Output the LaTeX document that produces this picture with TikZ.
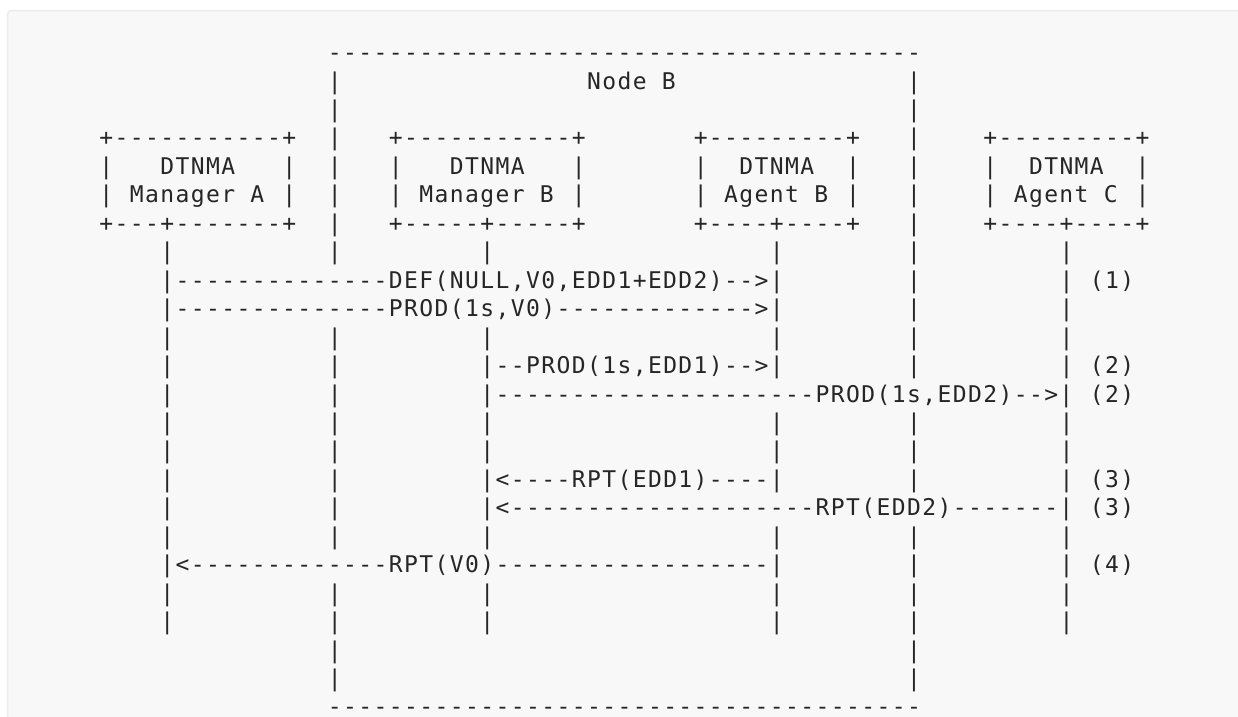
\documentclass[tikz,border=0pt]{standalone}
\usepackage{fontspec}
\newfontfamily\asciifont[Ligatures=TeXOff,LetterSpace=6.06]{DejaVu Sans Mono}
\definecolor{bgfill}{HTML}{F8F8F8}
\definecolor{bgline}{HTML}{ECECEC}
\definecolor{txt}{HTML}{262626}
\newcommand\xo{99.38pt}
\newcommand\cw{15.24pt}
\newcommand\yo{60.6pt}
\newcommand\lh{28.45pt}
\tikzset{
  ascii/.style={anchor=base west, inner sep=0pt, outer sep=0pt, text=txt,
    font=\asciifont\fontsize{23pt}{28pt}\selectfont},
  panel/.style={draw=bgline, line width=1.5pt, fill=bgfill, rounded corners=4pt}
}
\newcommand\seg[3]{\node[ascii] (r#1c#2) at ({\xo+#2*\cw},{-(\yo+#1*\lh)}) {#3};}
\newcommand\bars[2]{\foreach \c in {#2} {\seg{#1}{\c}{|}}}
\begin{document}
\begin{tikzpicture}
\useasboundingbox (0,0) rectangle (1238pt,-716pt);
\clip (0,0) rectangle (1238pt,-716pt);
\fill[white] (0,0) rectangle (1238pt,-716pt);
\path[panel] (7.5pt,-10.5pt) rectangle (1260pt,-740pt);
% row 0
\seg{0}{15}{---------------------------------------}
% rows 1-2
\bars{1}{15,53}
\seg{1}{32}{Node B}
\bars{2}{15,53}
% row 3
\seg{3}{0}{+-----------+}
\seg{3}{15}{|}
\seg{3}{19}{+-----------+}
\seg{3}{39}{+---------+}
\seg{3}{53}{|}
\seg{3}{58}{+---------+}
% row 4
\bars{4}{0,12,15,19,31,39,49,53,58,68}
\seg{4}{4}{DTNMA}
\seg{4}{23}{DTNMA}
\seg{4}{42}{DTNMA}
\seg{4}{61}{DTNMA}
% row 5
\bars{5}{0,12,15,19,31,39,49,53,58,68}
\seg{5}{2}{Manager A}
\seg{5}{21}{Manager B}
\seg{5}{41}{Agent B}
\seg{5}{60}{Agent C}
% row 6
\seg{6}{0}{+---+-------+}
\seg{6}{15}{|}
\seg{6}{19}{+-----+-----+}
\seg{6}{39}{+----+----+}
\seg{6}{53}{|}
\seg{6}{58}{+----+----+}
% row 7
\bars{7}{4,15,25,44,53,63}
% row 8
\seg{8}{4}{|--------------DEF(NULL,V0,EDD1+EDD2)-->|}
\bars{8}{53,63}
\seg{8}{65}{(1)}
% row 9
\seg{9}{4}{|--------------PROD(1s,V0)------------->|}
\bars{9}{53,63}
% row 10
\bars{10}{4,15,25,44,53,63}
% row 11
\bars{11}{4,15,53,63}
\seg{11}{25}{|--PROD(1s,EDD1)-->|}
\seg{11}{65}{(2)}
% row 12
\bars{12}{4,15}
\seg{12}{25}{|---------------------PROD(1s,EDD2)-->|}
\seg{12}{65}{(2)}
% rows 13-14
\bars{13}{4,15,25,44,53,63}
\bars{14}{4,15,25,44,53,63}
% row 15
\bars{15}{4,15,53,63}
\seg{15}{25}{|<----RPT(EDD1)----|}
\seg{15}{65}{(3)}
% row 16
\bars{16}{4,15}
\seg{16}{25}{|<--------------------RPT(EDD2)-------|}
\seg{16}{65}{(3)}
% row 17
\bars{17}{4,15,25,44,53,63}
% row 18
\seg{18}{4}{|<-------------RPT(V0)------------------|}
\bars{18}{53,63}
\seg{18}{65}{(4)}
% rows 19-22
\bars{19}{4,15,25,44,53,63}
\bars{20}{4,15,25,44,53,63}
\bars{21}{15,53}
\bars{22}{15,53}
% row 23
\seg{23}{15}{---------------------------------------}
\end{tikzpicture}
\end{document}
